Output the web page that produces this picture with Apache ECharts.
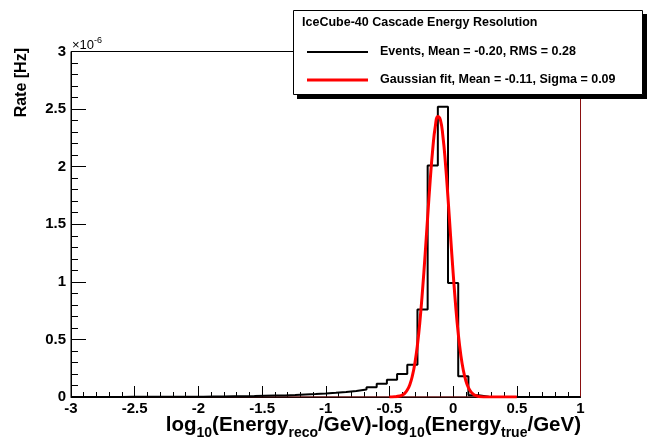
<!DOCTYPE html>
<html>
<head>
<meta charset="utf-8">
<script src="https://cdn.jsdelivr.net/npm/echarts@6/dist/echarts.min.js"></script>
<style>
html,body{margin:0;padding:0;background:#fff;}
#chart{width:649px;height:439px;}
</style>
</head>
<body>
<div id="chart"></div>
<script>
// Histogram: 50 bins of width 0.08 from -3 to 1, values in units of 1e-6 Hz
var binStart = -3;
var binWidth = 0.08;
var eventRates = [
  0.001, 0.001, 0.001, 0.001, 0.001, 0.0015, 0.0015, 0.002, 0.002, 0.002,
  0.0025, 0.003, 0.003, 0.004, 0.005, 0.006, 0.007, 0.008, 0.010, 0.012,
  0.014, 0.017, 0.021, 0.025, 0.030, 0.036, 0.044, 0.053, 0.065, 0.085,
  0.115, 0.15, 0.20, 0.28, 0.76, 2.01, 2.52, 0.99, 0.18, 0.015,
  0.002, 0, 0, 0, 0, 0, 0, 0, 0, 0
];
// Gaussian fit curve
var fitX = [-0.50, -0.46, -0.42, -0.40, -0.38, -0.36, -0.34, -0.32, -0.30, -0.28,
  -0.26, -0.24, -0.22, -0.20, -0.18, -0.16, -0.14, -0.12, -0.10, -0.08,
  -0.06, -0.04, -0.02, 0.00, 0.02, 0.04, 0.06, 0.08, 0.10, 0.12,
  0.14, 0.16, 0.18, 0.20, 0.24, 0.30, 0.40, 0.50];
var fitY = [0.000, 0.002, 0.008, 0.016, 0.032, 0.060, 0.107, 0.183, 0.296, 0.454,
  0.665, 0.930, 1.235, 1.562, 1.880, 2.153, 2.348, 2.436, 2.406, 2.262,
  2.025, 1.725, 1.398, 1.079, 0.792, 0.553, 0.368, 0.233, 0.141, 0.081,
  0.044, 0.023, 0.011, 0.005, 0.001, 0.000, 0.000, 0.000];
var xTicks = { min: -3, max: 1, interval: 0.5 };
var yTicks = { min: 0, max: 3, interval: 0.5 };
var legendTitle = 'IceCube-40 Cascade Energy Resolution';
var legendEvents = 'Events, Mean = -0.20, RMS = 0.28';
var legendFit = 'Gaussian fit, Mean = -0.11, Sigma = 0.09';

var histData = [];
for (var i = 0; i < eventRates.length; i++) {
  histData.push([+(binStart + i * binWidth).toFixed(2), eventRates[i]]);
}
histData.push([+(binStart + eventRates.length * binWidth).toFixed(2), eventRates[eventRates.length - 1]]);
var fitData = fitX.map(function (x, i) { return [x, fitY[i]]; });

var FONT = 'Liberation Sans, Arial, Helvetica, sans-serif';
var chart = echarts.init(document.getElementById('chart'), null, { renderer: 'canvas' });
chart.setOption({
  animation: false,
  backgroundColor: '#fff',
  grid: { left: 71, right: 68.5, top: 51.5, bottom: 42, show: true, borderColor: '#000', borderWidth: 1, backgroundColor: 'transparent' },
  xAxis: {
    type: 'value', min: xTicks.min, max: xTicks.max, interval: xTicks.interval,
    axisLine: { show: true, onZero: false, lineStyle: { color: '#000', width: 1 } },
    axisTick: { show: true, inside: true, length: 11, lineStyle: { color: '#000', width: 1 } },
    minorTick: { show: true, splitNumber: 5, length: 5, lineStyle: { color: '#000', width: 1 } },
    splitLine: { show: false },
    axisLabel: { color: '#000', fontFamily: FONT, fontWeight: 'bold', fontSize: 15, margin: 4 }
  },
  yAxis: {
    type: 'value', min: yTicks.min, max: yTicks.max, interval: yTicks.interval,
    axisLine: { show: true, onZero: false, lineStyle: { color: '#000', width: 1 } },
    axisTick: { show: true, inside: true, length: 15, lineStyle: { color: '#000', width: 1 } },
    minorTick: { show: true, splitNumber: 5, length: 7, lineStyle: { color: '#000', width: 1 } },
    splitLine: { show: false },
    axisLabel: { color: '#000', fontFamily: FONT, fontWeight: 'bold', fontSize: 15, margin: 5 }
  },
  series: [
    {
      type: 'line', data: [[xTicks.min, 0], [xTicks.max, 0], [xTicks.max, yTicks.max]],
      symbol: 'none', silent: true, z: 1,
      lineStyle: { color: '#8a1010', width: 1 }
    },
    {
      name: 'Events', type: 'line', step: 'end', data: histData, symbol: 'none', z: 3,
      lineStyle: { color: '#000', width: 2 }
    },
    {
      name: 'Gaussian fit', type: 'line', smooth: true, data: fitData, symbol: 'none', z: 4,
      lineStyle: { color: '#ff0000', width: 3 }
    }
  ],
  graphic: [
    {
      type: 'text', rotation: Math.PI / 2, z: 10,
      style: { text: 'Rate [Hz]', fill: '#000', font: 'bold 16px ' + FONT, align: 'right', verticalAlign: 'top', x: 0, y: 0 },
      position: [14, 48], originX: 0, originY: 0
    },
    {
      type: 'text', z: 10,
      style: {
        x: 72, y: 36, text: '{m|×10}{s|-6}', align: 'left', verticalAlign: 'top',
        rich: {
          m: { fontFamily: FONT, fontSize: 13, fill: '#000', lineHeight: 16, verticalAlign: 'bottom' },
          s: { fontFamily: FONT, fontSize: 9, fill: '#000', lineHeight: 16, verticalAlign: 'top' }
        }
      }
    },
    {
      type: 'text', z: 10,
      style: {
        x: 581, y: 410, align: 'right', verticalAlign: 'top',
        text: '{m|log}{s|10}{m|(Energy}{s|reco}{m|/GeV)-log}{s|10}{m|(Energy}{s|true}{m|/GeV)}',
        rich: {
          m: { fontFamily: FONT, fontWeight: 'bold', fontSize: 20.5, fill: '#000', lineHeight: 30, verticalAlign: 'middle' },
          s: { fontFamily: FONT, fontWeight: 'bold', fontSize: 14, fill: '#000', lineHeight: 30, verticalAlign: 'bottom' }
        }
      }
    },
    { type: 'rect', z: 20, shape: { x: 297, y: 14, width: 350, height: 85 }, style: { fill: '#000' } },
    { type: 'rect', z: 21, shape: { x: 293.5, y: 10.5, width: 349, height: 84 }, style: { fill: '#fff', stroke: '#000', lineWidth: 1 } },
    { type: 'text', z: 22, style: { x: 302, y: 23, text: legendTitle, font: 'bold 12.5px ' + FONT, fill: '#000', verticalAlign: 'middle' } },
    { type: 'line', z: 22, shape: { x1: 307, y1: 52, x2: 368, y2: 52 }, style: { stroke: '#000', lineWidth: 2 } },
    { type: 'text', z: 22, style: { x: 380, y: 52, text: legendEvents, font: 'bold 12.5px ' + FONT, fill: '#000', verticalAlign: 'middle' } },
    { type: 'line', z: 22, shape: { x1: 307, y1: 80, x2: 368, y2: 80 }, style: { stroke: '#ff0000', lineWidth: 3 } },
    { type: 'text', z: 22, style: { x: 380, y: 80, text: legendFit, font: 'bold 12.5px ' + FONT, fill: '#000', verticalAlign: 'middle' } }
  ]
});
</script>
</body>
</html>
